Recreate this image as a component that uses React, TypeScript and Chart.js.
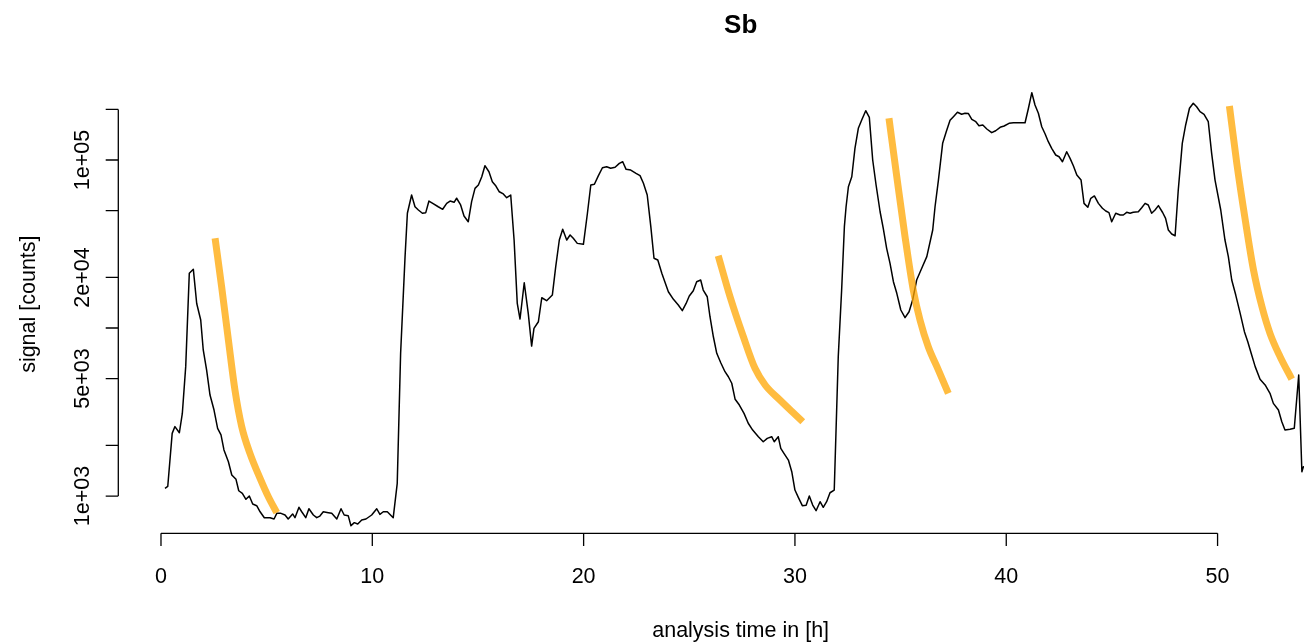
import React, { useEffect, useRef } from 'react';
import { Chart, registerables } from 'chart.js';

Chart.register(...registerables);

// ---- measured signal (black line) ----
const timeH = [
  0.19, 0.32, 0.53, 0.66, 0.87, 1.01, 1.17, 1.34, 1.53, 1.69,
  1.88, 2.0, 2.16, 2.32, 2.51, 2.68, 2.84, 2.98, 3.19, 3.35,
  3.55, 3.68, 3.85, 4.02, 4.18, 4.34, 4.53, 4.69, 4.89, 5.16,
  5.35, 5.48, 5.68, 5.87, 6.02, 6.23, 6.34, 6.53, 6.66, 6.85,
  7.0, 7.21, 7.37, 7.52, 7.68, 7.92, 8.08, 8.32, 8.52, 8.67,
  8.86, 8.99, 9.15, 9.31, 9.5, 9.7, 9.97, 10.21, 10.36, 10.52,
  10.71, 10.99, 11.18, 11.34, 11.55, 11.66, 11.86, 12.02, 12.18, 12.37,
  12.53, 12.68, 12.86, 13.12, 13.33, 13.52, 13.68, 13.87, 13.99, 14.18,
  14.34, 14.54, 14.7, 14.86, 15.02, 15.18, 15.33, 15.52, 15.68, 15.85,
  16.01, 16.2, 16.36, 16.55, 16.71, 16.86, 16.99, 17.19, 17.38, 17.54,
  17.65, 17.86, 18.02, 18.25, 18.52, 18.68, 18.85, 19.01, 19.2, 19.36,
  19.51, 19.7, 19.99, 20.18, 20.34, 20.51, 20.7, 20.89, 21.09, 21.28,
  21.49, 21.69, 21.85, 22.01, 22.23, 22.48, 22.67, 22.83, 23.01, 23.18,
  23.33, 23.51, 23.7, 24.01, 24.25, 24.48, 24.67, 24.85, 25.0, 25.19,
  25.35, 25.54, 25.66, 25.85, 25.98, 26.14, 26.3, 26.49, 26.69, 26.85,
  27.01, 27.17, 27.37, 27.59, 27.79, 28.0, 28.27, 28.5, 28.69, 28.9,
  29.02, 29.21, 29.33, 29.48, 29.69, 29.85, 30.0, 30.16, 30.35, 30.53,
  30.68, 30.84, 31.0, 31.19, 31.34, 31.5, 31.66, 31.86, 32.05, 32.21,
  32.34, 32.42, 32.53, 32.69, 32.84, 33.0, 33.16, 33.35, 33.52, 33.68,
  33.84, 34.03, 34.18, 34.34, 34.5, 34.66, 34.82, 35.01, 35.21, 35.4,
  35.57, 35.76, 36.0, 36.24, 36.52, 36.63, 36.79, 36.99, 37.16, 37.34,
  37.5, 37.69, 37.89, 38.05, 38.21, 38.37, 38.56, 38.71, 38.89, 39.08,
  39.31, 39.5, 39.71, 39.9, 40.13, 40.34, 40.65, 40.89, 41.05, 41.21,
  41.36, 41.52, 41.68, 41.84, 41.99, 42.15, 42.34, 42.5, 42.66, 42.86,
  43.02, 43.18, 43.34, 43.54, 43.68, 43.86, 44.0, 44.17, 44.36, 44.55,
  44.71, 44.86, 44.99, 45.18, 45.39, 45.54, 45.7, 45.86, 46.01, 46.25,
  46.41, 46.57, 46.72, 46.88, 47.04, 47.2, 47.4, 47.54, 47.67, 47.83,
  47.99, 48.14, 48.33, 48.49, 48.67, 48.85, 49.01, 49.17, 49.36, 49.56,
  49.72, 49.88, 50.15, 50.35, 50.51, 50.67, 50.86, 51.07, 51.27, 51.43,
  51.59, 51.78, 52.01, 52.25, 52.48, 52.64, 52.88, 53.04, 53.19, 53.43,
  53.63, 53.84, 53.99, 54.06, 54.2,
];

const signalCounts = [
  1110, 1140, 2360, 2590, 2380, 3100, 5890, 21200, 22400, 14000,
  11160, 7400, 5620, 3990, 3250, 2530, 2310, 1880, 1600, 1334,
  1257, 1075, 1038, 956, 1000, 896, 876, 806, 743, 743,
  730, 789, 789, 771, 730, 782, 743, 857, 806, 743,
  840, 771, 743, 760, 806, 796, 789, 730, 840, 771,
  764, 666, 694, 681, 720, 730, 771, 840, 778, 806,
  806, 743, 1190, 7070, 26600, 48200, 61900, 52700, 50400, 48200,
  48600, 57000, 55200, 52700, 50900, 55200, 57000, 56000, 59200, 54000,
  46400, 42900, 56500, 67800, 71000, 79500, 92500, 85100, 74300, 70000,
  64700, 62800, 59700, 61900, 33400, 14000, 11310, 18600, 12230, 7810,
  9960, 10900, 15140, 14540, 15710, 23170, 33400, 38700, 33400, 35800,
  34200, 31900, 31500, 48200, 71000, 71700, 80700, 89900, 91200, 89300,
  90500, 95500, 97700, 88000, 87100, 83300, 80700, 72700, 61900, 40100,
  26000, 25400, 21200, 16440, 14820, 13710, 12680, 14000, 15500, 16670,
  18860, 19310, 16830, 15350, 11670, 8870, 7070, 6215, 5495, 5130,
  4690, 3765, 3480, 3105, 2710, 2470, 2255, 2105, 2205, 2255,
  2105, 2255, 1923, 1795, 1637, 1395, 1086, 982, 876, 880,
  1000, 884, 818, 925, 857, 925, 1046, 1086, 6750, 16830,
  40100, 52700, 69300, 79500, 117400, 154400, 173000, 196600, 179500, 100000,
  71000, 49200, 39200, 29800, 24270, 18860, 16090, 12800, 11520, 12500,
  14680, 19310, 22670, 26600, 38300, 52700, 76000, 125700, 147400, 172200,
  181100, 192300, 187100, 189700, 189000, 174600, 169000, 160000, 161600, 152900,
  145400, 149300, 156500, 159400, 165400, 166700, 166700, 166700, 203200, 251500,
  212400, 189700, 157800, 142800, 128500, 117400, 107100, 104600, 97700, 112000,
  102300, 92100, 81400, 76000, 55200, 52300, 59200, 61100, 55200, 51600,
  49700, 48600, 42900, 48200, 47050, 47050, 48830, 48200, 48830, 49200,
  52000, 55200, 54000, 48200, 50400, 53500, 48700, 44980, 38300, 36270,
  35400, 66300, 125700, 161600, 203200, 217500, 207500, 193900, 187100, 169000,
  109600, 76000, 50400, 33400, 26600, 19310, 15710, 12230, 9510, 8290,
  7070, 5890, 4950, 4580, 4085, 3560, 3250, 2770, 2470, 2495,
  2530, 5250, 1395, 1494, 1470,
];

// ---- decay fits (orange) ----
const fit1Time = [2.56, 2.87, 3.19, 3.5, 3.82, 4.21, 4.69, 5.08, 5.48];
const fit1Signal = [34200, 17620, 8480, 4275, 2590, 1795, 1274, 990, 796];
const fit2Time = [26.37, 26.93, 27.56, 28.11, 28.59, 29.29, 29.92, 30.37];
const fit2Signal = [26920, 15350, 8870, 5755, 4580, 3728, 3130, 2770];
const fit3Time = [34.45, 34.82, 35.21, 35.6, 35.92, 36.31, 36.79, 37.26];
const fit3Signal = [177100, 79500, 34960, 16830, 11160, 7740, 5620, 4085];
const fit4Time = [50.56, 50.91, 51.31, 51.7, 52.1, 52.48, 52.96, 53.51];
const fit4Signal = [209600, 95500, 43950, 22150, 13390, 9300, 6750, 4970];

// ---- axes ----
const xTicks = [0, 10, 20, 30, 40, 50];
const yTicks = [1000, 2000, 5000, 10000, 20000, 50000, 100000, 200000];
const yTickLabels = ['1e+03', '', '5e+03', '', '2e+04', '', '1e+05', ''];
const titleText = 'Sb';
const xTitle = 'analysis time in [h]';
const yTitle = 'signal [counts]';

const W = 1304;
const H = 644;
const FONT = '"Liberation Sans", Arial, Helvetica, sans-serif';
const FIT_COLOR = 'rgba(255,165,0,0.75)';

const zip = (xs: number[], ys: number[]) =>
  xs.slice(0, Math.min(xs.length, ys.length)).map((x, i) => ({ x, y: ys[i] }));

const rAxesPlugin = {
  id: 'rAxes',
  afterDraw(chart: any) {
    const { ctx, chartArea } = chart;
    const xs = chart.scales.x;
    const ys = chart.scales.y;
    const tick = 12.6;
    ctx.save();
    ctx.strokeStyle = '#000';
    ctx.fillStyle = '#000';
    ctx.lineWidth = 1.3;
    ctx.lineCap = 'butt';

    // x axis
    const by = chartArea.bottom;
    ctx.beginPath();
    ctx.moveTo(xs.getPixelForValue(xTicks[0]), by);
    ctx.lineTo(xs.getPixelForValue(xTicks[xTicks.length - 1]), by);
    xTicks.forEach((v) => {
      const px = xs.getPixelForValue(v);
      ctx.moveTo(px, by);
      ctx.lineTo(px, by + tick);
    });
    ctx.stroke();
    ctx.font = `21.5px ${FONT}`;
    ctx.textAlign = 'center';
    ctx.textBaseline = 'alphabetic';
    xTicks.forEach((v) => {
      ctx.fillText(String(v), xs.getPixelForValue(v), by + 50);
    });

    // y axis
    const lx = chartArea.left;
    ctx.beginPath();
    ctx.moveTo(lx, ys.getPixelForValue(yTicks[0]));
    ctx.lineTo(lx, ys.getPixelForValue(yTicks[yTicks.length - 1]));
    yTicks.forEach((v) => {
      const py = ys.getPixelForValue(v);
      ctx.moveTo(lx, py);
      ctx.lineTo(lx - tick, py);
    });
    ctx.stroke();
    yTicks.forEach((v, i) => {
      const lab = yTickLabels[i];
      if (!lab) return;
      ctx.save();
      ctx.translate(lx - 29.3, ys.getPixelForValue(v));
      ctx.rotate(-Math.PI / 2);
      ctx.fillText(lab, 0, 0);
      ctx.restore();
    });

    // axis titles
    ctx.fillText(xTitle, (chartArea.left + 1363) / 2, by + 103.7);
    ctx.save();
    ctx.translate(35, (chartArea.top + chartArea.bottom) / 2);
    ctx.rotate(-Math.PI / 2);
    ctx.fillText(yTitle, 0, 0);
    ctx.restore();

    // main title
    ctx.font = `bold 26px ${FONT}`;
    ctx.fillText(titleText, (chartArea.left + 1363) / 2, 32.5);
    ctx.restore();
  },
};

export default function App() {
  const canvasRef = useRef<HTMLCanvasElement | null>(null);

  useEffect(() => {
    const canvas = canvasRef.current;
    if (!canvas) return;
    const fitStyle = {
      borderColor: FIT_COLOR,
      borderWidth: 7,
      pointRadius: 0,
      borderCapStyle: 'butt' as const,
      cubicInterpolationMode: 'monotone' as const,
      fill: false,
    };
    const chart = new Chart(canvas, {
      type: 'line',
      data: {
        datasets: [
          { label: 'fit1', data: zip(fit1Time, fit1Signal), ...fitStyle },
          { label: 'fit2', data: zip(fit2Time, fit2Signal), ...fitStyle },
          { label: 'fit3', data: zip(fit3Time, fit3Signal), ...fitStyle },
          { label: 'fit4', data: zip(fit4Time, fit4Signal), ...fitStyle },
          {
            label: 'signal',
            data: zip(timeH, signalCounts),
            borderColor: '#000',
            borderWidth: 1.5,
            pointRadius: 0,
            tension: 0,
            borderJoinStyle: 'round',
            fill: false,
          },
        ],
      },
      options: {
        animation: false,
        responsive: false,
        devicePixelRatio: 1,
        events: [],
        layout: { padding: { left: 118.3, top: 75, right: 0, bottom: H - 533.3 } },
        plugins: {
          legend: { display: false },
          tooltip: { enabled: false },
          title: { display: false },
        },
        scales: {
          x: { type: 'linear', min: -2.02, max: 54.09, display: false },
          y: { type: 'logarithmic', min: 600, max: 320600, display: false },
        },
      },
      plugins: [rAxesPlugin],
    });
    return () => chart.destroy();
  }, []);

  return (
    <div
      style={{
        position: 'fixed',
        left: 0,
        top: 0,
        width: W,
        height: H,
        background: '#fff',
      }}
    >
      <canvas ref={canvasRef} width={W} height={H} style={{ display: 'block', width: W, height: H }} />
    </div>
  );
}
